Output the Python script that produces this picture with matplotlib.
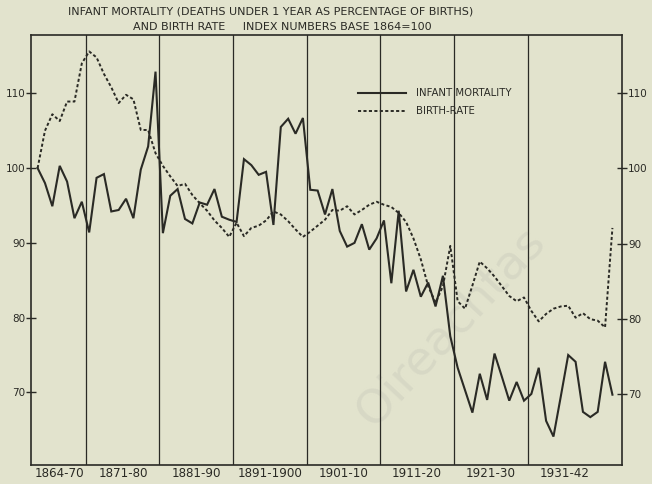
import numpy as np
import matplotlib.pyplot as plt

# index numbers, base 1864 = 100, one value per year 1864..1942
years = np.arange(1864, 1943)

infant_mortality = [
    100.0, 98.0, 94.9, 100.3, 98.2, 93.3, 95.5,                 # 1864-70
    91.4, 98.7, 99.2, 94.2, 94.4, 95.9, 93.3, 99.8, 102.9, 112.9,  # 1871-80
    91.3, 96.3, 97.2, 93.2, 92.6, 95.4, 95.1, 97.2, 93.5, 93.1,    # 1881-90
    92.8, 101.2, 100.4, 99.1, 99.5, 92.4, 105.5, 106.6, 104.6, 106.7,  # 1891-1900
    97.1, 97.0, 93.8, 97.2, 91.6, 89.5, 90.0, 92.5, 89.1, 90.6,    # 1901-10
    93.0, 84.6, 94.3, 83.5, 86.4, 82.8, 84.7, 81.5, 85.6, 77.5,    # 1911-20
    73.3, 70.3, 67.3, 72.5, 69.0, 75.2, 72.1, 68.9, 71.4, 68.9,    # 1921-30
    69.8, 73.3, 66.2, 64.1, 69.5, 75.0, 74.1, 67.4, 66.7, 67.4, 74.1, 69.7,  # 1931-42
]

birth_rate = [
    100.0, 105.0, 107.2, 106.3, 108.9, 108.9, 114.0,
    115.6, 114.8, 112.6, 110.8, 108.7, 109.8, 109.2, 105.1, 105.1, 102.0,
    100.3, 98.9, 97.6, 97.9, 96.4, 95.3, 94.3, 93.0, 92.0, 90.8,
    92.7, 90.9, 92.0, 92.3, 93.0, 94.2, 93.8, 92.9, 91.8, 90.8,
    91.5, 92.3, 93.1, 94.4, 94.3, 94.9, 93.8, 94.4, 95.1, 95.5,
    95.1, 94.8, 94.0, 92.8, 90.6, 87.8, 84.2, 82.0, 84.2, 89.6,
    82.2, 81.2, 84.3, 87.5, 86.6, 85.5, 84.2, 82.9, 82.2, 82.7,
    80.9, 79.5, 80.5, 81.2, 81.5, 81.6, 80.0, 80.6, 79.8, 79.6, 78.7, 92.0,
]

period_labels = ['1864-70', '1871-80', '1881-90', '1891-1900',
                 '1901-10', '1911-20', '1921-30', '1931-42']
period_centres = [1867, 1875.6, 1885.5, 1895.5, 1905.5, 1915.4, 1925.5, 1935.5]
period_breaks = [1870.5, 1880.5, 1890.5, 1900.5, 1910.5, 1920.5, 1930.5]
y_ticks = [70, 80, 90, 100, 110]

paper = '#e2e3cd'
ink = '#2a2a25'

plt.rcParams['font.family'] = ['DejaVu Sans']

fig = plt.figure(figsize=(6.52, 4.84), dpi=100, facecolor=paper)
ax = fig.add_axes([0.0475, 0.0393, 0.9065, 0.8884])
ax.set_facecolor(paper)

# faint library watermark of the scan
ax.text(0.71, 0.32, 'Oireachtas', transform=ax.transAxes, rotation=47,
        fontsize=34, color='#d7d8c5', ha='center', va='center', zorder=0.5)

for b in period_breaks:
    ax.axvline(b, color=ink, lw=0.9, zorder=1)

ax.plot(years, infant_mortality, color=ink, lw=1.5, label='INFANT MORTALITY',
        solid_joinstyle='miter', zorder=3)
ax.plot(years, birth_rate, color=ink, lw=1.4, linestyle=(0, (1.6, 1.2)),
        label='BIRTH-RATE', zorder=3)

ax.set_xlim(1863.1, 1943.3)
ax.set_ylim(60.3, 117.8)

ax.set_yticks(y_ticks)
ax.tick_params(axis='y', direction='inout', length=6.5, width=1.0, color=ink,
               labelcolor=ink, labelsize=7.5, pad=1)
ax.set_xticks(period_centres, period_labels)
ax.tick_params(axis='x', length=0, labelcolor=ink, labelsize=8.6, pad=1.5)

for s in ax.spines.values():
    s.set_color(ink)
    s.set_linewidth(1.2)

ax2 = ax.twinx()
ax2.set_ylim(60.6, 117.7)
ax2.set_yticks(y_ticks)
ax2.tick_params(axis='y', direction='inout', length=6.5, width=1.0, color=ink,
                labelcolor=ink, labelsize=7.5, pad=1)
for s in ax2.spines.values():
    s.set_visible(False)

ax.legend(loc='upper left', bbox_to_anchor=(0.553, 0.876), frameon=False,
          fontsize=7.3, handlelength=4.8, handletextpad=0.9, labelspacing=0.8,
          borderpad=0, borderaxespad=0, labelcolor=ink)

fig.text(0.415, 0.976, 'INFANT MORTALITY (DEATHS UNDER 1 YEAR AS PERCENTAGE OF BIRTHS)',
         ha='center', va='center', fontsize=8, color=ink)
fig.text(0.433, 0.944, 'AND BIRTH RATE     INDEX NUMBERS BASE 1864=100',
         ha='center', va='center', fontsize=8, color=ink)

fig.savefig('out.png', dpi=100, facecolor=paper)
